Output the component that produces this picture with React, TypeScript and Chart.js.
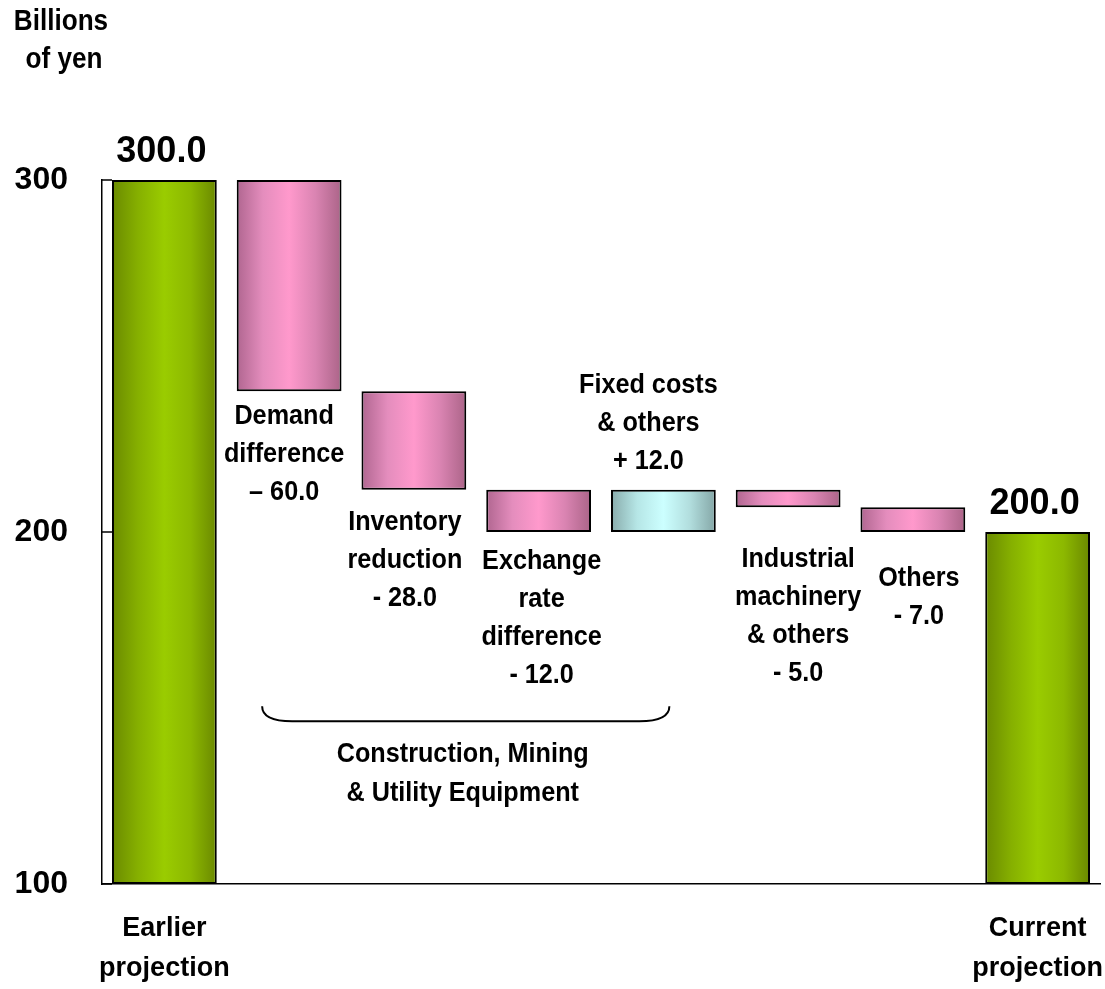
import React, { useEffect, useRef } from "react";
import { Chart, registerables } from "chart.js";

Chart.register(...registerables);

const categories = [
  "Earlier projection",
  "Demand difference",
  "Inventory reduction",
  "Exchange rate difference",
  "Fixed costs & others",
  "Industrial machinery & others",
  "Others",
  "Current projection",
];
const lows = [100, 240, 212, 200, 200, 207, 200, 100];
const highs = [300, 300, 240, 212, 212, 212, 207, 200];
const kinds = ["total", "down", "down", "down", "up", "down", "down", "total"];
const totalLabels = ["300.0", "", "", "", "", "", "", "200.0"];
const axisLabels = [["Earlier", "projection"], [], [], [], [], [], [], ["Current", "projection"]];
const stepLabels = [
  [],
  ["Demand", "difference", "– 60.0"],
  ["Inventory", "reduction", "- 28.0"],
  ["Exchange", "rate", "difference", "- 12.0"],
  ["Fixed costs", "& others", "+ 12.0"],
  ["Industrial", "machinery", "& others", "- 5.0"],
  ["Others", "- 7.0"],
  [],
];
const yTicks = [100, 200, 300];
const unitLabel = ["Billions", "of yen"];
const groupLabel = ["Construction, Mining", "& Utility Equipment"];

const FONT = "'Liberation Sans', Arial, sans-serif";

// label placement: [dx px, dy px from bar edge, above?]
const labelPlace: [number, number, boolean][] = [
  [0, 0, false],
  [-5, 25, false],
  [-9, 33, false],
  [3, 29, false],
  [-15, 28, true],
  [10, 52, false],
  [6, 46, false],
  [0, 0, false],
];

const gradStops: Record<string, string[]> = {
  total: ["#6a8a00", "#86b000", "#9acc00", "#8cb800", "#6a8800"],
  down: ["#b06690", "#e48dbd", "#ff99cc", "#da84b2", "#ab6488"],
  up: ["#88abab", "#b6e6e6", "#ccffff", "#b2dede", "#84a6a6"],
};

function narrowText(c: CanvasRenderingContext2D, t: string, x: number, y: number, k = 0.9) {
  c.save();
  c.translate(x, y);
  c.scale(k, 1);
  c.fillText(t, 0, 0);
  c.restore();
}

export default function App() {
  const ref = useRef<HTMLCanvasElement>(null);
  useEffect(() => {
    const canvas = ref.current!;
    const barPct = 0.84;

    const bg = (ctx: any) => {
      const chart = ctx.chart;
      const xs = chart.scales?.x;
      const kind = kinds[ctx.dataIndex] || "down";
      const stops = gradStops[kind];
      if (!xs || !chart.chartArea) return stops[2];
      const cx = xs.getPixelForValue(ctx.dataIndex);
      const half = ((xs.width / categories.length) * barPct) / 2;
      const g = chart.ctx.createLinearGradient(cx - half, 0, cx + half, 0);
      stops.forEach((c: string, i: number) => g.addColorStop(i / (stops.length - 1), c));
      return g;
    };

    const annot = {
      id: "annot",
      afterDraw(chart: any) {
        const c = chart.ctx;
        const xs = chart.scales.x;
        const ys = chart.scales.y;
        const ca = chart.chartArea;
        c.save();
        c.fillStyle = "#000";
        c.textAlign = "center";
        c.textBaseline = "middle";
        // inner ticks on y axis
        c.strokeStyle = "#000";
        c.lineWidth = 1.5;
        yTicks.forEach((v) => {
          const y = ys.getPixelForValue(v);
          c.beginPath();
          c.moveTo(ca.left, y);
          c.lineTo(ca.left + 10, y);
          c.stroke();
        });
        // unit label
        c.font = `bold 29px ${FONT}`;
        unitLabel.forEach((t, i) => narrowText(c, t, i === 0 ? 61 : 64, 22 + i * 38));
        // total labels
        c.font = `bold 36px ${FONT}`;
        categories.forEach((_, i) => {
          if (!totalLabels[i]) return;
          c.fillText(totalLabels[i], xs.getPixelForValue(i) - 3, ys.getPixelForValue(highs[i]) - 28);
        });
        // step labels
        c.font = `bold 28px ${FONT}`;
        const lh = 38;
        stepLabels.forEach((lines, i) => {
          if (!lines.length) return;
          const [dx, dy, above] = labelPlace[i];
          const x = xs.getPixelForValue(i) + dx;
          const top = above
            ? ys.getPixelForValue(highs[i]) - dy - (lines.length - 1) * lh
            : ys.getPixelForValue(lows[i]) + dy;
          lines.forEach((t, k) => narrowText(c, t, x, top + k * lh));
        });
        // bracket
        const x1 = xs.getPixelForValue(1) - 27;
        const x2 = xs.getPixelForValue(4) + 6;
        const yb = ys.getPixelForValue(150.5);
        const r = 26;
        c.lineWidth = 2;
        c.beginPath();
        c.moveTo(x1, yb);
        c.bezierCurveTo(x1, yb + 10, x1 + 10, yb + 15, x1 + r + 4, yb + 15);
        c.lineTo(x2 - r - 4, yb + 15);
        c.bezierCurveTo(x2 - 10, yb + 15, x2, yb + 10, x2, yb);
        c.stroke();
        const gx = (x1 + x2) / 2 - 3;
        groupLabel.forEach((t, k) => narrowText(c, t, gx, yb + 48 + k * 39));
        c.restore();
      },
    };

    const chart = new Chart(canvas, {
      type: "bar",
      data: {
        labels: categories,
        datasets: [
          {
            data: lows.map((l, i) => [l, highs[i]]) as any,
            backgroundColor: bg as any,
            borderColor: "#000",
            borderWidth: 2,
            borderSkipped: false,
            barPercentage: barPct,
            categoryPercentage: 1,
          },
        ],
      },
      options: {
        animation: false,
        responsive: false,
        maintainAspectRatio: false,
        layout: { padding: { top: 180, right: 5, left: 0, bottom: 0 } },
        plugins: { legend: { display: false }, tooltip: { enabled: false } },
        scales: {
          x: {
            offset: true,
            grid: { display: false, drawTicks: false },
            border: { display: true, color: "#000", width: 1.5 },
            afterFit: (s: any) => {
              s.height = 105;
              s.paddingLeft = 0;
              s.paddingRight = 0;
            },
            ticks: {
              maxRotation: 0,
              autoSkip: false,
              padding: 25,
              color: "#000",
              font: { family: FONT, size: 27, weight: "bold", lineHeight: 1.48 },
              callback: (_v: any, i: number) => axisLabels[i],
            },
          },
          y: {
            min: 100,
            max: 300,
            grid: { display: false, drawTicks: false },
            border: { display: true, color: "#000", width: 1.5 },
            afterFit: (s: any) => {
              s.width = 102;
              s.paddingTop = 0;
              s.paddingBottom = 0;
            },
            afterBuildTicks: (s: any) => {
              s.ticks = yTicks.map((v) => ({ value: v }));
            },
            ticks: {
              padding: 34,
              color: "#000",
              font: { family: FONT, size: 32, weight: "bold" },
            },
          },
        },
      },
      plugins: [annot],
    });
    return () => chart.destroy();
  }, []);
  return (
    <div style={{ position: "fixed", left: 0, top: 0, width: 1105, height: 989, background: "#fff" }}>
      <canvas ref={ref} width={1105} height={989} style={{ width: 1105, height: 989, display: "block" }} />
    </div>
  );
}
